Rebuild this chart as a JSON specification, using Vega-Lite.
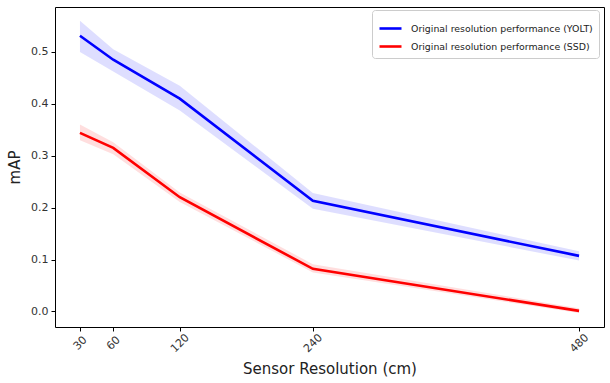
{
  "$schema": "https://vega.github.io/schema/vega-lite/v6.json",
  "width": 549,
  "height": 320,
  "autosize": "none",
  "padding": {"left": 55, "top": 7, "right": 6, "bottom": 56},
  "background": "white",
  "config": {
    "view": {"stroke": "#000000", "strokeWidth": 1},
    "font": "DejaVu Sans"
  },
  "data": {
    "values": [
      {"res": 30, "series": "Original resolution performance (YOLT)", "mAP": 0.531, "lo": 0.500, "hi": 0.560},
      {"res": 60, "series": "Original resolution performance (YOLT)", "mAP": 0.485, "lo": 0.462, "hi": 0.505},
      {"res": 120, "series": "Original resolution performance (YOLT)", "mAP": 0.410, "lo": 0.387, "hi": 0.435},
      {"res": 240, "series": "Original resolution performance (YOLT)", "mAP": 0.213, "lo": 0.198, "hi": 0.228},
      {"res": 480, "series": "Original resolution performance (YOLT)", "mAP": 0.107, "lo": 0.098, "hi": 0.116},
      {"res": 30, "series": "Original resolution performance (SSD)", "mAP": 0.344, "lo": 0.330, "hi": 0.360},
      {"res": 60, "series": "Original resolution performance (SSD)", "mAP": 0.315, "lo": 0.303, "hi": 0.326},
      {"res": 120, "series": "Original resolution performance (SSD)", "mAP": 0.220, "lo": 0.211, "hi": 0.229},
      {"res": 240, "series": "Original resolution performance (SSD)", "mAP": 0.082, "lo": 0.075, "hi": 0.091},
      {"res": 480, "series": "Original resolution performance (SSD)", "mAP": 0.001, "lo": -0.003, "hi": 0.006}
    ]
  },
  "encoding": {
    "x": {
      "field": "res",
      "type": "quantitative",
      "scale": {"domain": [7.5, 502.5], "nice": false, "zero": false},
      "axis": {
        "values": [30, 60, 120, 240, 480],
        "title": "Sensor Resolution (cm)",
        "titleFontSize": 15,
        "titleFontWeight": "normal",
        "titleColor": "#222",
        "titlePadding": 8,
        "labelAngle": -45,
        "labelAlign": "center",
        "labelBaseline": "middle",
        "labelFontSize": 11,
        "labelColor": "#333",
        "labelPadding": 12,
        "domain": false,
        "grid": false,
        "tickColor": "#000",
        "tickSize": 4
      }
    },
    "y": {
      "type": "quantitative",
      "scale": {"domain": [-0.03, 0.5865], "nice": false, "zero": false},
      "axis": {
        "values": [0, 0.1, 0.2, 0.3, 0.4, 0.5],
        "format": ".1f",
        "title": "mAP",
        "titleFontSize": 15,
        "titleFontWeight": "normal",
        "titleColor": "#222",
        "titlePadding": 8,
        "labelFontSize": 11,
        "labelColor": "#333",
        "labelPadding": 3,
        "domain": false,
        "grid": false,
        "tickColor": "#000",
        "tickSize": 4
      }
    },
    "color": {
      "field": "series",
      "type": "nominal",
      "scale": {"domain": ["Original resolution performance (YOLT)", "Original resolution performance (SSD)"], "range": ["#0000ff", "#ff0000"]},
      "legend": {
        "title": null,
        "orient": "none",
        "legendX": 317,
        "legendY": 3,
        "labelFontSize": 9.4,
        "labelColor": "#222",
        "symbolType": "stroke",
        "symbolSize": 484,
        "symbolStrokeWidth": 2.6,
        "symbolOpacity": 1,
        "labelOffset": 8,
        "rowPadding": -7,
        "padding": 6,
        "strokeColor": "#cccccc",
        "fillColor": "white",
        "cornerRadius": 3,
        "labelLimit": 300
      }
    }
  },
  "layer": [
    {
      "mark": {"type": "area", "opacity": 0.13},
      "encoding": {
        "y": {"field": "lo", "type": "quantitative"},
        "y2": {"field": "hi"}
      }
    },
    {
      "mark": {"type": "line", "strokeWidth": 2.6},
      "encoding": {
        "y": {"field": "mAP", "type": "quantitative"}
      }
    }
  ]
}
